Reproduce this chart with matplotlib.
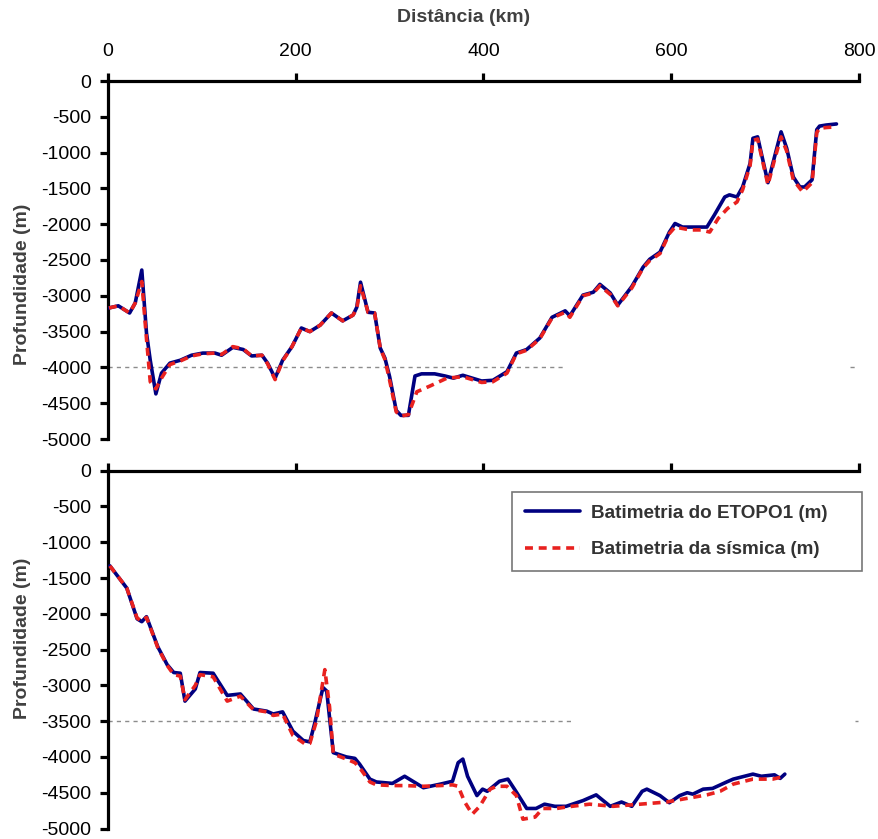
import matplotlib
matplotlib.use('Agg')
import matplotlib.pyplot as plt
from matplotlib.lines import Line2D

plt.rcParams['font.family'] = ['Liberation Sans', 'DejaVu Sans']
plt.rcParams['axes.unicode_minus'] = False

# ---------------- data ----------------
x_ticks = [0, 200, 400, 600, 800]
y_ticks = [0, -500, -1000, -1500, -2000, -2500, -3000, -3500, -4000, -4500, -5000]

top_etopo_x = [1, 11, 23, 29, 36, 41, 45, 51, 57, 66, 77, 89, 101, 114, 121, 133, 144, 153, 164, 170,
               178, 186, 196, 206, 215, 226, 238, 250, 261, 265, 269, 277, 284, 290, 295, 300, 307, 312, 320, 327,
               334, 348, 359, 368, 378, 388, 398, 410, 425, 435, 446, 460, 473, 487, 492, 506, 517, 524, 535, 543,
               558, 570, 577, 588, 598, 604, 612, 623, 638, 646, 657, 662, 670, 676, 684, 687, 692, 703, 710, 717,
               723, 730, 737, 742, 750, 755, 758, 765, 776]
top_etopo_y = [-3170, -3140, -3240, -3100, -2640, -3520, -3900, -4370, -4080, -3940,
               -3900, -3830, -3800, -3800, -3830, -3720, -3750, -3840, -3830, -3940,
               -4150, -3900, -3710, -3450, -3500, -3410, -3240, -3350, -3270, -3160,
               -2810, -3230, -3240, -3730, -3870, -4130, -4600, -4670, -4670, -4120,
               -4090, -4090, -4120, -4150, -4110, -4150, -4190, -4180, -4060, -3800,
               -3750, -3590, -3300, -3210, -3280, -2990, -2950, -2840, -2960, -3130,
               -2870, -2600, -2490, -2390, -2110, -1990, -2040, -2040, -2040, -1870,
               -1620, -1590, -1620, -1480, -1150, -800, -780, -1420, -1060, -710,
               -940, -1340, -1480, -1480, -1380, -680, -630, -615, -600]

top_seis_x = [1, 11, 23, 29, 36, 41, 45, 51, 57, 66, 77, 89, 101, 114, 121, 133, 144, 153, 164, 170,
              178, 186, 196, 206, 215, 226, 238, 250, 261, 265, 269, 277, 284, 290, 295, 300, 307, 312, 320, 329,
              343, 361, 378, 388, 398, 410, 425, 435, 446, 460, 473, 487, 492, 506, 517, 524, 535, 543, 558, 570,
              577, 588, 598, 604, 620, 632, 641, 650, 660, 670, 676, 684, 687, 692, 703, 710, 717, 723, 730, 740,
              750, 755, 758, 765, 776]
top_seis_y = [-3170, -3140, -3240, -3100, -2800, -3600, -4200, -4300, -4150, -3960,
              -3910, -3840, -3810, -3800, -3820, -3710, -3740, -3840, -3830, -3950,
              -4170, -3910, -3710, -3450, -3500, -3410, -3240, -3350, -3270, -3180,
              -2860, -3230, -3240, -3730, -3890, -4180, -4620, -4680, -4660, -4340,
              -4260, -4150, -4130, -4170, -4210, -4200, -4080, -3810, -3760, -3600,
              -3310, -3230, -3300, -3000, -2960, -2860, -2980, -3140, -2890, -2610,
              -2510, -2410, -2130, -2040, -2080, -2080, -2110, -1920, -1780, -1690,
              -1520, -1180, -830, -810, -1450, -1100, -780, -980, -1380, -1550,
              -1420, -720, -660, -650, -640]

bot_etopo_x = [2, 20, 31, 36, 41, 53, 63, 70, 77, 82, 93, 98, 112, 127, 141, 155, 169, 176, 186, 197,
               208, 215, 220, 229, 233, 240, 254, 263, 268, 279, 286, 303, 316, 336, 354, 367, 373, 378, 383, 393,
               399, 404, 417, 426, 435, 446, 456, 465, 476, 488, 506, 520, 535, 547, 558, 569, 574, 588, 598, 609,
               617, 623, 634, 644, 659, 666, 687, 696, 710, 716, 721]
bot_etopo_y = [-1330, -1640, -2070, -2110, -2040, -2460, -2710, -2820, -2830, -3220,
               -3050, -2820, -2830, -3140, -3120, -3330, -3360, -3400, -3370, -3640,
               -3770, -3790, -3540, -3030, -3080, -3940, -4000, -4020, -4100, -4310,
               -4350, -4370, -4270, -4430, -4380, -4340, -4080, -4030, -4270, -4540,
               -4450, -4480, -4340, -4310, -4490, -4720, -4720, -4660, -4690, -4690,
               -4610, -4530, -4690, -4630, -4690, -4480, -4450, -4540, -4640, -4540,
               -4500, -4520, -4450, -4440, -4350, -4310, -4240, -4270, -4250, -4300,
               -4240]

bot_seis_x = [2, 20, 31, 36, 41, 53, 63, 70, 77, 82, 93, 98, 112, 127, 141, 155, 169, 176, 186, 197,
              210, 215, 222, 231, 236, 240, 254, 263, 268, 279, 286, 303, 316, 336, 354, 367, 373, 380, 388, 396,
              407, 414, 425, 435, 442, 455, 463, 478, 488, 513, 538, 567, 595, 612, 638, 652, 666, 687, 708, 721]
bot_seis_y = [-1330, -1640, -2060, -2100, -2050, -2470, -2720, -2850, -2870, -3200,
              -3000, -2850, -2880, -3220, -3150, -3340, -3370, -3420, -3400, -3700,
              -3820, -3810, -3500, -2780, -3300, -3960, -4030, -4080, -4150, -4350,
              -4390, -4400, -4400, -4410, -4400, -4390, -4410, -4630, -4800, -4690,
              -4450, -4410, -4410, -4540, -4870, -4840, -4720, -4720, -4700, -4660,
              -4690, -4660, -4630, -4590, -4530, -4480, -4380, -4310, -4310, -4270]

top_ref_level = -4000
top_ref_spans = [(0, 487), (790, 797)]
bot_ref_level = -3500
bot_ref_spans = [(0, 494), (796, 799)]

label_etopo = 'Batimetria do ETOPO1 (m)'
label_seis = 'Batimetria da sísmica (m)'

# ---------------- figure ----------------
W, H = 879, 839
fig = plt.figure(figsize=(W / 100, H / 100), dpi=100)


def rect(x0, x1, ytop, ybot):
    return [x0 / W, 1 - ybot / H, (x1 - x0) / W, (ybot - ytop) / H]


ax1 = fig.add_axes(rect(108, 859, 81, 439))
ax2 = fig.add_axes(rect(108, 859, 470.7, 828.5))

BLUE = '#000080'
RED = '#e8211f'
LW = 2.6

for ax, ex, ey, sx, sy, lvl, spans in [
        (ax1, top_etopo_x, top_etopo_y, top_seis_x, top_seis_y, top_ref_level, top_ref_spans),
        (ax2, bot_etopo_x, bot_etopo_y, bot_seis_x, bot_seis_y, bot_ref_level, bot_ref_spans)]:
    for a, b in spans:
        ax.plot([a, b], [lvl, lvl], color='#8c8c8c', lw=1.0, ls=(0, (3, 3)), zorder=1)
    ax.plot(ex, ey, color=BLUE, lw=LW, solid_joinstyle='round', solid_capstyle='round', zorder=3)
    ax.plot(sx, sy, color=RED, lw=LW, dashes=(2.2, 1.6), dash_capstyle='butt', zorder=4)
    ax.set_xlim(0, 800)
    ax.set_ylim(-5000, 0)
    for s in ['right', 'bottom']:
        ax.spines[s].set_visible(False)
    for s in ['top', 'left']:
        ax.spines[s].set_linewidth(2.3)
        ax.spines[s].set_color('black')
    ax.xaxis.set_ticks_position('top')
    ax.set_xticks(x_ticks)
    ax.set_yticks(y_ticks)
    ax.set_yticklabels([str(v) for v in y_ticks])
    ax.tick_params(axis='both', direction='out', length=6, width=2.3, colors='black',
                   labelsize=14)
    ax.tick_params(axis='y', pad=6)
    ax.tick_params(axis='x', pad=9)
    ax.set_facecolor('none')

ax1.set_xticklabels([str(v) for v in x_ticks])
ax2.tick_params(axis='x', labeltop=False, labelbottom=False)

LABEL_COLOR = '#404040'
fig.text(464 / W, 1 - 18 / H, 'Distância (km)', ha='center', va='center',
         fontsize=14, fontweight='bold', color=LABEL_COLOR)
fig.text(23 / W, 1 - 284 / H, 'Profundidade (m)', ha='center', va='center', rotation=90,
         fontsize=14, fontweight='bold', color=LABEL_COLOR)
fig.text(23 / W, 1 - 638 / H, 'Profundidade (m)', ha='center', va='center', rotation=90,
         fontsize=14, fontweight='bold', color=LABEL_COLOR)

handles = [Line2D([], [], color=BLUE, lw=LW, solid_capstyle='round'),
           Line2D([], [], color=RED, lw=LW, dashes=(2.2, 1.6))]
x0 = (512 - 108) / 751
y1 = (828.5 - 492) / 357.8
y0 = (828.5 - 568) / 357.8
leg = ax2.legend(handles, [label_etopo, label_seis], loc='upper left',
                 bbox_to_anchor=(x0, y0, 1.004 - x0, y1 - y0), mode='expand',
                 borderaxespad=0, fancybox=False, framealpha=1, edgecolor='#777777',
                 prop={'weight': 'bold', 'size': 13.6}, labelcolor='#333333',
                 handlelength=2.9, handletextpad=0.6, borderpad=0.68, labelspacing=1.0)
leg.get_frame().set_linewidth(1.2)

fig.savefig('out.png', dpi=100)
